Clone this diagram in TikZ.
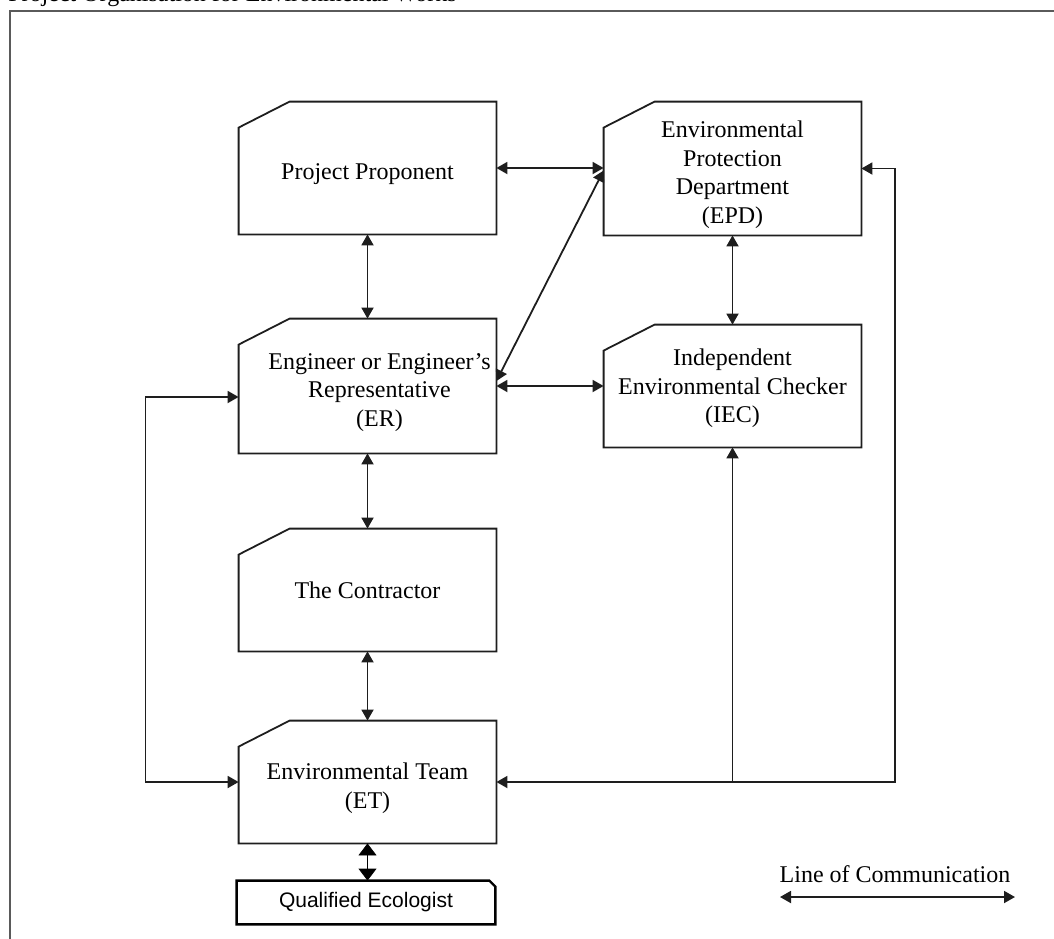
\documentclass[tikz,border=0pt]{standalone}
\usepackage{fontspec}
\setmainfont{Liberation Serif}
\setsansfont{Liberation Sans}
\usetikzlibrary{arrows.meta, calc}
\definecolor{framegrey}{RGB}{90,90,90}
\definecolor{boxline}{RGB}{30,30,30}

\begin{document}
\begin{tikzpicture}[x=0.5pt, y=-0.5pt,
  unitbox/.style={text width=128.5pt, minimum height=#1, inner sep=0pt, align=flush center, font=\fontsize{12}{14.25}\selectfont},
  unitbox/.default=61pt,
  toppad/.style={execute at begin node={\rule{0pt}{#1}}},
  toppad/.default=14.5pt,
  qebox/.style={minimum width=129pt, minimum height=21.5pt, inner sep=0pt, font=\sffamily\fontsize{10.5}{12}\selectfont},
  comm/.style={{Triangle[length=5.5pt,width=6pt]}-{Triangle[length=5.5pt,width=6pt]}, line width=0.9pt, boxline},
  tip/.style={-{Triangle[length=5.5pt,width=6pt]}, line width=0.9pt, boxline},
]
  \useasboundingbox (0,0) rectangle (1054,938);
  % frame and title
  \draw[framegrey, line width=1pt] (9.5,960) -- (9.5,11) -- (1080,11);
  \node[anchor=base west, inner sep=0pt, font=\fontsize{12}{14}\selectfont] (title) at (8,1) {Project Organisation for Environmental Works};

  % parties
  \node[unitbox=66pt, toppad] (pp)  at (367.5,168)   {Project Proponent};
  \node[unitbox=66.5pt, toppad] (epd) at (732.5,168.5) {Environmental\\Protection\\Department\\(EPD)};
  \node[unitbox=67pt, toppad] (er)  at (367.5,386)   {\hspace*{12pt}Engineer or Engineer’s\\\hspace*{12pt}Representative\\\hspace*{12pt}(ER)};
  \node[unitbox, toppad=11pt] (iec) at (732.5,386)   {Independent\\Environmental Checker\\(IEC)};
  \node[unitbox] (con) at (367.5,590)   {The Contractor};
  \node[unitbox, toppad] (et)  at (367.5,782)   {Environmental Team\\(ET)};
  \foreach \b in {pp,epd,er,iec,con,et}
    \draw[boxline, line width=0.9pt] ($(\b.north west)+(0,26)$) -- ($(\b.north west)+(51,0)$) -- (\b.north east) -- (\b.south east) -- (\b.south west) -- cycle;

  \node[qebox] (qe) at (366,902.5) {Qualified Ecologist};
  \draw[black, line width=1.2pt] (qe.north west) -- ($(qe.north east)+(-6,0)$) -- ($(qe.north east)+(0,6)$) -- (qe.south east) -- (qe.south west) -- cycle;

  % lines of communication
  \draw[comm] (pp.east) -- (pp.east -| epd.west);
  \draw[comm] (pp.south) -- (er.north);
  \draw[comm] ([yshift=2.5pt]er.east) -- ([yshift=-1pt]epd.west);
  \draw[comm] (er.east) -- (er.east -| iec.west);
  \draw[comm] (epd.south) -- (iec.north);
  \draw[comm] (er.south) -- (con.north);
  \draw[comm] (con.south) -- (et.north);
  \coordinate (lp) at (145.5,397);
  \draw[comm] (er.west |- lp) -- (lp) |- (et.west);
  \coordinate (rc) at (895,782);
  \draw[comm] (et.east) -- (rc) |- (epd.east);
  \draw[tip] (iec.south |- et.east) -- (iec.south);
  \draw[{Triangle[length=6pt,width=9pt]}-{Triangle[length=6pt,width=9pt]}, line width=0.4pt] (et.south) -- (et.south |- qe.north);

  % legend
  \node[font=\fontsize{12}{14}\selectfont] (legend) at (895,874) {Line of Communication};
  \coordinate (la) at (780,897);
  \coordinate (lb) at (1015,897);
  \draw[comm] (la) -- (lb);
\end{tikzpicture}
\end{document}
